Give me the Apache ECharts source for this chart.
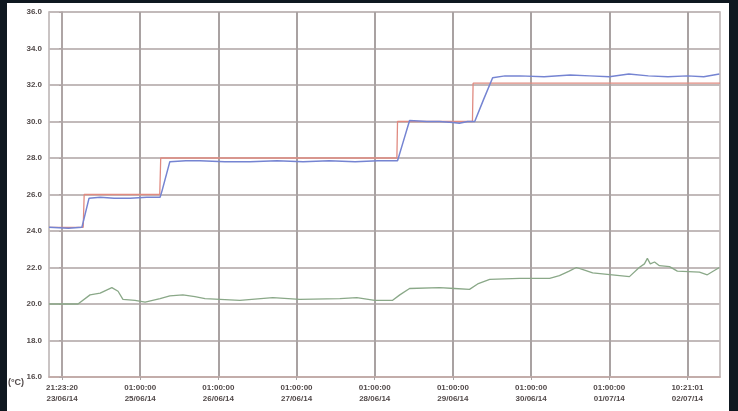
<!DOCTYPE html>
<html>
<head>
<meta charset="utf-8">
<script src="https://cdn.jsdelivr.net/npm/echarts@6/dist/echarts.min.js"></script>
<style>
  html, body { margin: 0; padding: 0; background: #0f1820; }
  #chart { width: 738px; height: 411px; }
</style>
</head>
<body>
<div id="chart"></div>
<script>
// Temperature log: set point (red), chamber probe (blue), ambient (green).
// x values are hours since the first reading.
const tickHours = [0, 24, 48, 72, 96, 120, 144, 168, 192];
const tickTimes = ['21:23:20', '01:00:00', '01:00:00', '01:00:00', '01:00:00', '01:00:00', '01:00:00', '01:00:00', '10:21:01'];
const tickDates = ['23/06/14', '25/06/14', '26/06/14', '27/06/14', '28/06/14', '29/06/14', '30/06/14', '01/07/14', '02/07/14'];

const setHours = [-4, 6.5, 6.8, 30.0, 30.3, 102.8, 103.0, 126.0, 126.2, 202];
const setTemps = [24.2, 24.2, 26.0, 26.0, 28.0, 28.0, 30.0, 30.0, 32.1, 32.1];

const probeHours = [-4, 2, 6.1, 6.7, 8.3, 11.7, 16, 20.9, 26, 30.1, 30.7, 33.1, 38, 42.3, 50, 57.7, 66, 74, 82, 90, 97, 103.0, 104.6, 106.7, 112, 115.9, 120, 122.0, 124.5, 126.7, 129.4, 132.2, 136, 140.5, 148, 156, 162, 168, 174, 180, 186, 192, 197, 201.8];
const probeTemps = [24.2, 24.15, 24.2, 24.3, 25.8, 25.85, 25.8, 25.8, 25.85, 25.85, 26.2, 27.8, 27.85, 27.85, 27.8, 27.8, 27.85, 27.8, 27.85, 27.8, 27.85, 27.85, 28.8, 30.05, 30.0, 30.0, 29.95, 29.9, 30.0, 30.0, 31.2, 32.4, 32.5, 32.5, 32.45, 32.55, 32.5, 32.45, 32.6, 32.5, 32.45, 32.5, 32.45, 32.6];

const ambientHours = [-4, 4.9, 8.6, 11.7, 15.3, 17.2, 18.7, 22.4, 25.5, 30.1, 33.1, 37.1, 40.8, 43.9, 54.6, 64.7, 73.0, 85.3, 90.5, 96.0, 101.5, 103.7, 106.7, 115.9, 120.5, 125.1, 127.6, 131.3, 140.5, 149.7, 152.7, 155.7, 157.9, 160.4, 162.9, 174.2, 177.2, 178.8, 179.7, 180.6, 181.9, 183.4, 186.5, 188.9, 195.7, 198.1, 201.8];
const ambientTemps = [20.0, 20.0, 20.5, 20.6, 20.9, 20.7, 20.25, 20.2, 20.1, 20.3, 20.45, 20.5, 20.4, 20.3, 20.2, 20.35, 20.25, 20.3, 20.35, 20.2, 20.2, 20.5, 20.85, 20.9, 20.85, 20.8, 21.1, 21.35, 21.4, 21.4, 21.55, 21.8, 22.0, 21.85, 21.7, 21.5, 22.0, 22.2, 22.5, 22.2, 22.3, 22.1, 22.05, 21.8, 21.75, 21.6, 22.0];

const pairs = (xs, ys) => xs.map((x, i) => [x, ys[i]]);

const labelFont = { color: '#524a4a', fontSize: 8, fontWeight: 'bold', fontFamily: 'Liberation Sans, Arial, sans-serif' };

const chart = echarts.init(document.getElementById('chart'));
chart.setOption({
  backgroundColor: '#0f1820',
  animation: false,
  graphic: [
    { type: 'rect', z: -10, shape: { x: 7, y: 3, width: 722, height: 408 }, style: { fill: '#ffffff' } },
    { type: 'text', left: 8, top: 378, style: { text: '(°C)', fill: '#524a4a', font: 'bold 9px Liberation Sans, Arial, sans-serif' } }
  ],
  grid: { left: 49, right: 18, top: 12, bottom: 34, show: true, borderColor: '#b9b1b1', borderWidth: 1.5, backgroundColor: 'transparent' },
  xAxis: {
    type: 'value',
    min: -4,
    max: 202,
    axisLine: { show: true, lineStyle: { color: '#c4a9a5', width: 1.5 } },
    axisTick: { show: true, customValues: tickHours, length: 3, lineStyle: { color: '#aaa3a3' } },
    splitLine: { show: true, lineStyle: { color: '#a9a2a2', width: 2 } },
    axisLabel: {
      customValues: tickHours,
      margin: 5,
      lineHeight: 11,
      ...labelFont,
      formatter: v => {
        const i = tickHours.indexOf(v);
        return i < 0 ? '' : tickTimes[i] + '\n' + tickDates[i];
      }
    }
  },
  yAxis: {
    type: 'value',
    min: 16,
    max: 36,
    interval: 2,
    axisLine: { show: true, lineStyle: { color: '#b0a6a6', width: 1.5 } },
    axisTick: { show: true, length: 3, lineStyle: { color: '#b0a6a6' } },
    splitLine: { show: true, lineStyle: { color: '#c2baba', width: 2 } },
    axisLabel: { margin: 7, ...labelFont, formatter: v => v.toFixed(1) }
  },
  series: [
    { name: 'Ambient', type: 'line', showSymbol: false, data: pairs(ambientHours, ambientTemps), lineStyle: { color: '#8aa888', width: 1.3 } },
    { name: 'Set point', type: 'line', showSymbol: false, data: pairs(setHours, setTemps), lineStyle: { color: '#e08a80', width: 1.3 } },
    { name: 'Probe', type: 'line', showSymbol: false, data: pairs(probeHours, probeTemps), lineStyle: { color: '#7584d2', width: 1.5 } }
  ]
});
</script>
</body>
</html>
